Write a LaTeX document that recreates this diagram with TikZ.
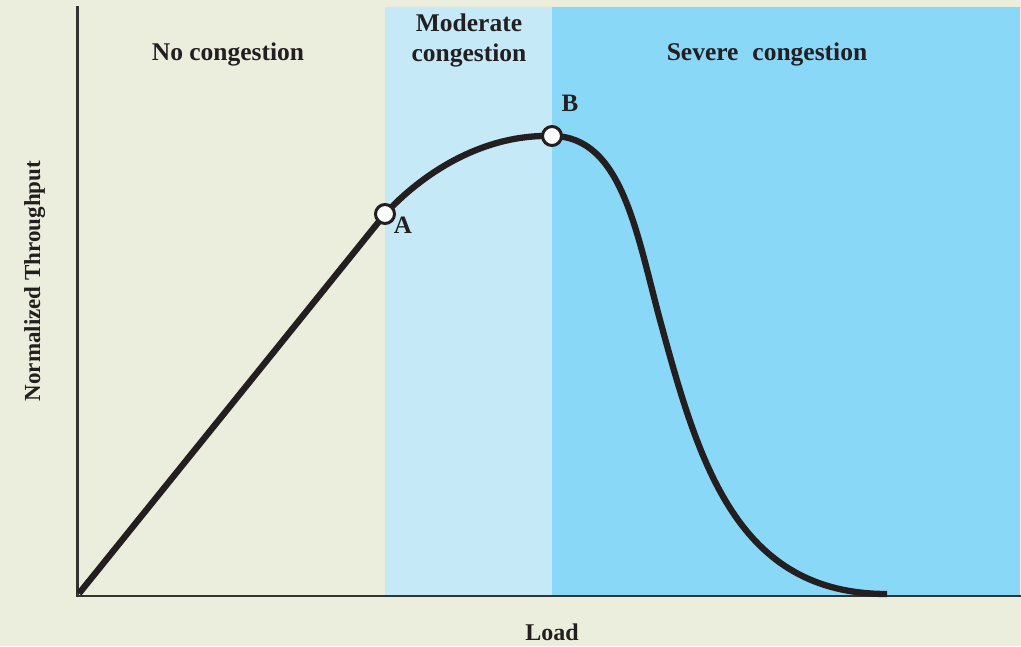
\documentclass[tikz,border=0pt]{standalone}
\usepackage{fontspec}
\setmainfont{Liberation Serif}
\definecolor{bgbeige}{HTML}{ECEEDD}
\definecolor{lightblue}{HTML}{C6E9F8}
\definecolor{darkblue}{HTML}{8AD8F7}
\definecolor{ink}{HTML}{231F20}
\definecolor{axisgray}{HTML}{333333}
\begin{document}
\begin{tikzpicture}[x=1pt,y=-1pt,
  heading/.style={text=ink,font=\fontsize{25.5}{30}\selectfont\bfseries,anchor=base,inner sep=0pt},
  axlabel/.style={text=ink,font=\fontsize{24}{28}\selectfont\bfseries,anchor=base,inner sep=0pt},
  ptlabel/.style={text=ink,font=\fontsize{25}{30}\selectfont\bfseries,anchor=base,inner sep=0pt},
  marker/.style={circle,draw=ink,fill=white,line width=3pt,minimum size=19pt,inner sep=0pt},
  curve/.style={draw=ink,line width=6.3pt,line cap=butt,line join=round},
  axis/.style={draw=axisgray,line width=2.2pt}]
\useasboundingbox (0,0) rectangle (1021,646);
\fill[bgbeige] (0,0) rectangle (1021,646);
% regions
\fill[lightblue] (385,7) rectangle (552,596);
\fill[darkblue] (552,7) rectangle (1019.5,596);
% axes
\coordinate (O) at (77.5,596);
\coordinate (ytop) at (77.5,6);
\coordinate (xend) at (1021,596);
\draw[axis] (ytop) -- (O) -- (xend);
% curve
\coordinate (start) at (79,593.5);
\coordinate (pA) at (385,214);
\coordinate (pB) at (552,136);
\coordinate (infl) at (660,320);
\coordinate (finish) at (887,594);
\draw[curve] (start) -- (pA)
  .. controls (420,176) and (480,134) .. (pB)
  .. controls (622,136) and (636.6,233.6) .. (infl)
  .. controls (699,464) and (737,594) .. (finish);
\node[marker] (A) at (pA) {};
\node[marker] (B) at (pB) {};
% labels
\node[ptlabel] (labA) at (403,233) {A};
\node[ptlabel] (labB) at (570,111.5) {B};
\node[heading] (nocong) at (228,60.5) {No congestion};
\node[heading] (mod1) at (469,31.5) {Moderate};
\node[heading] (mod2) at (469,61) {congestion};
\node[heading] (sev) at (767,60.5) {Severe\hspace{14pt}congestion};
\node[axlabel] (load) at (552,640.5) {Load};
\node[axlabel,font=\fontsize{23}{28}\selectfont\bfseries,rotate=90] (ylab) at (40,281) {Normalized Throughput};
\end{tikzpicture}
\end{document}
